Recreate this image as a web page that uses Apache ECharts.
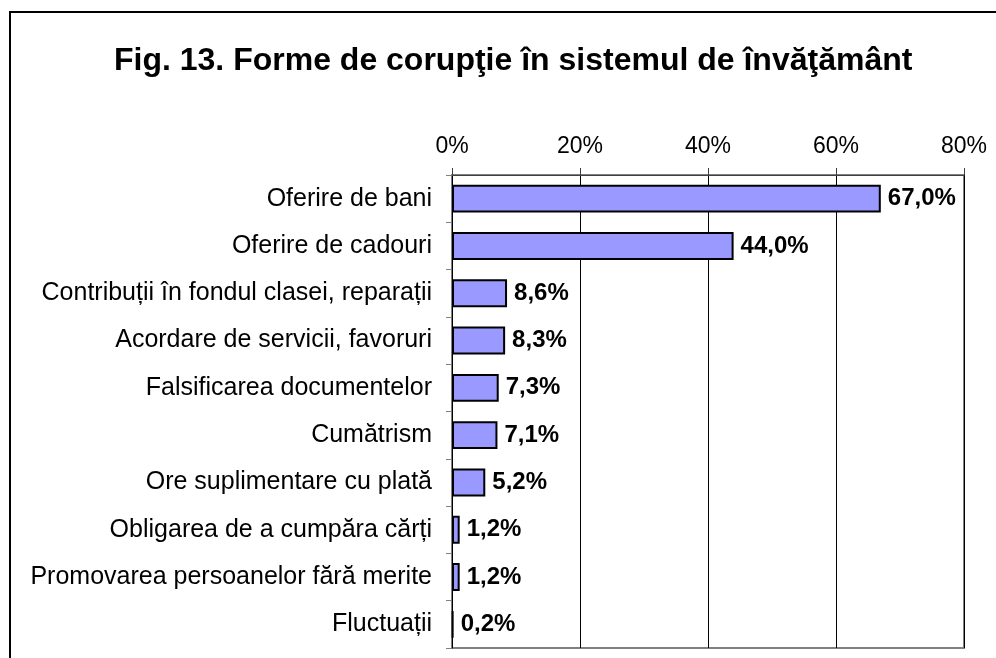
<!DOCTYPE html>
<html>
<head>
<meta charset="utf-8">
<title>Fig. 13</title>
<script src="https://cdn.jsdelivr.net/npm/echarts@6/dist/echarts.min.js"></script>
<style>
  html, body { margin: 0; padding: 0; background: #fff; }
  #chart { width: 996px; height: 658px; }
</style>
</head>
<body>
<div id="chart"></div>
<script>
// date
var categories = [
    'Oferire de bani',
    'Oferire de cadouri',
    'Contribuții în fondul clasei, reparații',
    'Acordare de servicii, favoruri',
    'Falsificarea documentelor',
    'Cumătrism',
    'Ore suplimentare cu plată',
    'Obligarea de a cumpăra cărți',
    'Promovarea persoanelor fără merite',
    'Fluctuații'
];
var values = [67.0, 44.0, 8.6, 8.3, 7.3, 7.1, 5.2, 1.2, 1.2, 0.2];
var tickLabels = ['0%', '20%', '40%', '60%', '80%'];

var chart = echarts.init(document.getElementById('chart'));

var option = {
    animation: false,
    textStyle: { fontFamily: 'Liberation Sans, Arial, sans-serif' },
    title: {
        text: 'Fig. 13. Forme de corupţie în sistemul de învăţământ',
        left: 109,
        top: 40,
        textStyle: { fontSize: 32, fontWeight: 'bold', color: '#000' }
    },
    graphic: [
        {
            type: 'rect',
            shape: { x: 10, y: 12, width: 1000, height: 700 },
            style: { fill: 'none', stroke: '#000', lineWidth: 2 },
            silent: true
        }
    ],
    grid: {
        left: 452,
        top: 175,
        width: 512,
        height: 473,
        show: true,
        borderColor: '#808080',
        borderWidth: 2,
        containLabel: false
    },
    xAxis: {
        type: 'value',
        position: 'top',
        min: 0,
        max: 80,
        interval: 20,
        axisLine: { show: true, lineStyle: { color: '#404040', width: 1 } },
        axisTick: { show: true, length: 7, lineStyle: { color: '#404040' } },
        axisLabel: {
            color: '#000',
            fontSize: 23,
            margin: 17,
            formatter: function (v) { return tickLabels[Math.round(v / 20)]; }
        },
        splitLine: { show: true, lineStyle: { color: '#000', width: 1 } }
    },
    yAxis: {
        type: 'category',
        inverse: true,
        data: categories,
        axisLine: { show: true, lineStyle: { color: '#000', width: 1 } },
        axisTick: { show: true, inside: false, length: 6, lineStyle: { color: '#808080' } },
        axisLabel: { color: '#000', fontSize: 25, margin: 20 }
    },
    series: [
        {
            type: 'bar',
            data: values,
            barCategoryGap: '41%',
            itemStyle: { color: '#9999ff', borderColor: '#000', borderWidth: 2 },
            label: {
                show: true,
                position: 'right',
                distance: 7,
                color: '#000',
                fontSize: 24,
                fontWeight: 'bold',
                formatter: function (p) { return p.value.toFixed(1).replace('.', ',') + '%'; }
            }
        }
    ]
};

chart.setOption(option);
</script>
</body>
</html>
